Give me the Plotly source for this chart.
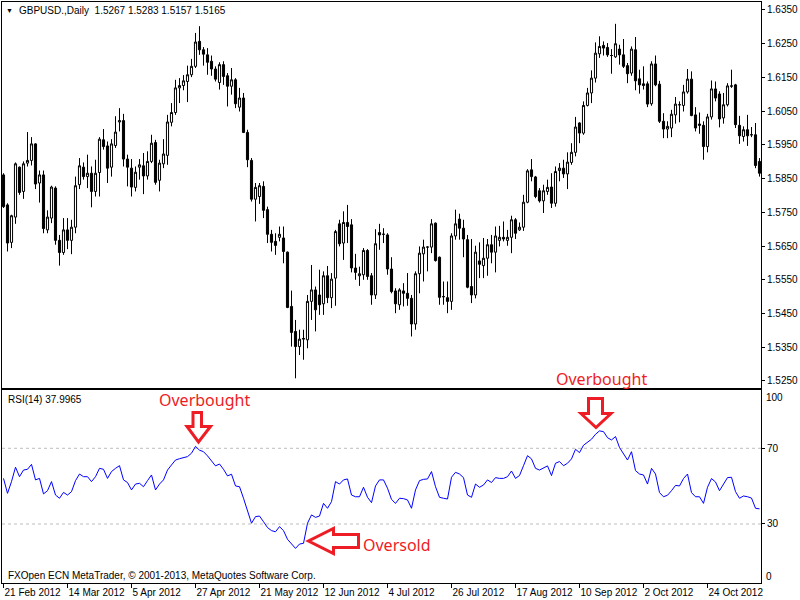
import plotly.graph_objects as go

# ---------------- data ----------------
date_ticks = [0, 16, 32, 48, 64, 80, 96, 112, 128, 144, 160, 176]
date_labels = ["21 Feb 2012", "14 Mar 2012", "5 Apr 2012", "27 Apr 2012", "21 May 2012",
               "12 Jun 2012", "4 Jul 2012", "26 Jul 2012", "17 Aug 2012", "10 Sep 2012",
               "2 Oct 2012", "24 Oct 2012"]
price_ticks = [1.5250, 1.5350, 1.5450, 1.5550, 1.5650, 1.5750, 1.5850, 1.5950,
               1.6050, 1.6150, 1.6250, 1.6350]
rsi_ticks = [30, 70]

opens = [1.5861, 1.5772, 1.5661, 1.5736, 1.5884, 1.5812, 1.5896, 1.5904, 1.5953, 1.5837,
         1.5861, 1.5698, 1.5733, 1.5822, 1.5667, 1.5631, 1.5698, 1.5667, 1.5706, 1.5832,
         1.5884, 1.5856, 1.5866, 1.5812, 1.5868, 1.5965, 1.5947, 1.5884, 1.5948, 1.6018,
         1.6022, 1.5908, 1.5881, 1.5824, 1.5884, 1.5888, 1.5858, 1.5901, 1.5957, 1.5845,
         1.5894, 1.5919, 1.6017, 1.6046, 1.6119, 1.6126, 1.6138, 1.6158, 1.6183, 1.6257,
         1.6232, 1.6217, 1.6198, 1.6175, 1.6135, 1.6188, 1.6155, 1.6124, 1.6143, 1.6062,
         1.6089, 1.5987, 1.5904, 1.5789, 1.5797, 1.5827, 1.5758, 1.5685, 1.5664, 1.5676,
         1.5674, 1.5632, 1.5471, 1.5397, 1.5352, 1.5374, 1.5372, 1.5486, 1.5520, 1.5505,
         1.5479, 1.5562, 1.5497, 1.5555, 1.5716, 1.5659, 1.5720, 1.5713, 1.5585, 1.5562,
         1.5565, 1.5637, 1.5562, 1.5505, 1.5690, 1.5685, 1.5683, 1.5582, 1.5517, 1.5476,
         1.5517, 1.5510, 1.5495, 1.5419, 1.5568, 1.5627, 1.5647, 1.5647, 1.5718, 1.5617,
         1.5500, 1.5497, 1.5486, 1.5680, 1.5730, 1.5703, 1.5669, 1.5530, 1.5505, 1.5606,
         1.5592, 1.5614, 1.5654, 1.5632, 1.5667, 1.5676, 1.5667, 1.5676, 1.5728, 1.5698,
         1.5706, 1.5780, 1.5876, 1.5855, 1.5814, 1.5784, 1.5812, 1.5825, 1.5777, 1.5874,
         1.5881, 1.5864, 1.5898, 1.5928, 1.6015, 1.5985, 1.6067, 1.6104, 1.6148, 1.6220,
         1.6245, 1.6239, 1.6215, 1.6211, 1.6234, 1.6217, 1.6185, 1.6163, 1.6232, 1.6146,
         1.6131, 1.6131, 1.6072, 1.6190, 1.6130, 1.6020, 1.5997, 1.6000, 1.6039, 1.6069,
         1.6067, 1.6107, 1.6145, 1.6039, 1.6012, 1.6008, 1.5945, 1.6033, 1.6116, 1.6101,
         1.6030, 1.6069, 1.6124, 1.6128, 1.6008, 1.5975, 1.5995, 1.5980, 1.5980, 1.5901]
highs = [1.5866, 1.5777, 1.5743, 1.5898, 1.5886, 1.5901, 1.5988, 1.5973, 1.5955, 1.5874,
         1.5874, 1.5756, 1.5829, 1.5827, 1.5683, 1.5733, 1.5733, 1.5728, 1.5856, 1.5911,
         1.5898, 1.5921, 1.5886, 1.5906, 1.5973, 1.5997, 1.5960, 1.5967, 1.6035, 1.6059,
         1.6042, 1.5921, 1.5908, 1.5886, 1.5908, 1.5926, 1.5931, 1.5980, 1.5965, 1.5906,
         1.5967, 1.6039, 1.6074, 1.6143, 1.6148, 1.6157, 1.6185, 1.6205, 1.6282, 1.6302,
         1.6240, 1.6237, 1.6215, 1.6183, 1.6195, 1.6198, 1.6163, 1.6178, 1.6148, 1.6119,
         1.6104, 1.5995, 1.5911, 1.5837, 1.5837, 1.5842, 1.5767, 1.5698, 1.5688, 1.5708,
         1.5708, 1.5634, 1.5518, 1.5431, 1.5402, 1.5402, 1.5505, 1.5594, 1.5530, 1.5580,
         1.5575, 1.5591, 1.5570, 1.5698, 1.5728, 1.5753, 1.5772, 1.5730, 1.5627, 1.5589,
         1.5644, 1.5641, 1.5570, 1.5700, 1.5716, 1.5703, 1.5688, 1.5617, 1.5525, 1.5525,
         1.5540, 1.5570, 1.5505, 1.5575, 1.5649, 1.5669, 1.5649, 1.5730, 1.5720, 1.5619,
         1.5545, 1.5545, 1.5688, 1.5758, 1.5746, 1.5728, 1.5683, 1.5671, 1.5651, 1.5661,
         1.5674, 1.5671, 1.5683, 1.5708, 1.5710, 1.5723, 1.5698, 1.5740, 1.5733, 1.5720,
         1.5802, 1.5878, 1.5908, 1.5858, 1.5822, 1.5832, 1.5847, 1.5866, 1.5886, 1.5896,
         1.5906, 1.5928, 1.5955, 1.6033, 1.6017, 1.6079, 1.6119, 1.6171, 1.6254, 1.6272,
         1.6257, 1.6252, 1.6234, 1.6309, 1.6247, 1.6264, 1.6193, 1.6242, 1.6270, 1.6173,
         1.6183, 1.6138, 1.6198, 1.6215, 1.6140, 1.6044, 1.6020, 1.6054, 1.6092, 1.6079,
         1.6128, 1.6175, 1.6168, 1.6062, 1.6046, 1.6020, 1.6042, 1.6141, 1.6138, 1.6109,
         1.6104, 1.6133, 1.6173, 1.6131, 1.6036, 1.6005, 1.6039, 1.6003, 1.6015, 1.5911]
lows = [1.5763, 1.5634, 1.5644, 1.5716, 1.5802, 1.5790, 1.5886, 1.5889, 1.5819, 1.5779,
        1.5688, 1.5688, 1.5718, 1.5654, 1.5592, 1.5624, 1.5641, 1.5626, 1.5688, 1.5819,
        1.5847, 1.5822, 1.5765, 1.5797, 1.5797, 1.5936, 1.5837, 1.5856, 1.5941, 1.5990,
        1.5886, 1.5827, 1.5797, 1.5812, 1.5847, 1.5804, 1.5847, 1.5896, 1.5832, 1.5812,
        1.5881, 1.5891, 1.6005, 1.6039, 1.6074, 1.6112, 1.6077, 1.6151, 1.6178, 1.6217,
        1.6185, 1.6158, 1.6155, 1.6138, 1.6114, 1.6128, 1.6064, 1.6099, 1.6059, 1.6049,
        1.5985, 1.5884, 1.5782, 1.5723, 1.5775, 1.5733, 1.5659, 1.5634, 1.5624, 1.5664,
        1.5599, 1.5466, 1.5352, 1.5258, 1.5327, 1.5313, 1.5347, 1.5431, 1.5397, 1.5446,
        1.5446, 1.5481, 1.5466, 1.5473, 1.5649, 1.5609, 1.5659, 1.5572, 1.5550, 1.5532,
        1.5550, 1.5550, 1.5476, 1.5493, 1.5639, 1.5659, 1.5565, 1.5510, 1.5451, 1.5461,
        1.5471, 1.5473, 1.5382, 1.5402, 1.5510, 1.5545, 1.5575, 1.5629, 1.5604, 1.5476,
        1.5476, 1.5451, 1.5461, 1.5669, 1.5669, 1.5617, 1.5525, 1.5481, 1.5495, 1.5555,
        1.5555, 1.5562, 1.5599, 1.5572, 1.5649, 1.5664, 1.5651, 1.5629, 1.5671, 1.5695,
        1.5695, 1.5777, 1.5842, 1.5792, 1.5779, 1.5748, 1.5802, 1.5763, 1.5767, 1.5842,
        1.5852, 1.5819, 1.5891, 1.5916, 1.5955, 1.5980, 1.6064, 1.6074, 1.6135, 1.6208,
        1.6215, 1.6211, 1.6161, 1.6208, 1.6188, 1.6178, 1.6133, 1.6155, 1.6112, 1.6102,
        1.6114, 1.6062, 1.6066, 1.6124, 1.6015, 1.5970, 1.5970, 1.5973, 1.6013, 1.6017,
        1.6049, 1.6102, 1.6035, 1.5990, 1.5983, 1.5906, 1.5928, 1.6025, 1.6079, 1.6002,
        1.6013, 1.6064, 1.6119, 1.6000, 1.5953, 1.5960, 1.5947, 1.5973, 1.5881, 1.5856]
closes = [1.5767, 1.5659, 1.5740, 1.5894, 1.5809, 1.5894, 1.5904, 1.5953, 1.5834, 1.5861,
          1.5702, 1.5736, 1.5825, 1.5667, 1.5631, 1.5698, 1.5667, 1.5706, 1.5829, 1.5888,
          1.5856, 1.5866, 1.5812, 1.5866, 1.5967, 1.5945, 1.5881, 1.5953, 1.5988, 1.6022,
          1.5908, 1.5884, 1.5825, 1.5869, 1.5891, 1.5858, 1.5901, 1.5955, 1.5839, 1.5896,
          1.5923, 1.6018, 1.6046, 1.6119, 1.6126, 1.6140, 1.6158, 1.6183, 1.6255, 1.6232,
          1.6219, 1.6195, 1.6175, 1.6145, 1.6188, 1.6153, 1.6124, 1.6143, 1.6072, 1.6089,
          1.5987, 1.5906, 1.5789, 1.5824, 1.5829, 1.5756, 1.5685, 1.5661, 1.5652, 1.5685,
          1.5634, 1.5468, 1.5394, 1.5352, 1.5374, 1.5376, 1.5486, 1.5520, 1.5461, 1.5476,
          1.5562, 1.5497, 1.5552, 1.5693, 1.5657, 1.5720, 1.5708, 1.5585, 1.5572, 1.5568,
          1.5637, 1.5560, 1.5505, 1.5657, 1.5683, 1.5685, 1.5582, 1.5515, 1.5479, 1.5520,
          1.5510, 1.5495, 1.5419, 1.5568, 1.5629, 1.5647, 1.5647, 1.5716, 1.5607, 1.5498,
          1.5500, 1.5486, 1.5680, 1.5716, 1.5703, 1.5671, 1.5528, 1.5505, 1.5632, 1.5596,
          1.5614, 1.5654, 1.5632, 1.5680, 1.5676, 1.5671, 1.5676, 1.5728, 1.5688, 1.5706,
          1.5780, 1.5873, 1.5856, 1.5797, 1.5784, 1.5814, 1.5824, 1.5777, 1.5871, 1.5881,
          1.5864, 1.5899, 1.5928, 1.6003, 1.5985, 1.6067, 1.6104, 1.6148, 1.6222, 1.6242,
          1.6237, 1.6217, 1.6215, 1.6250, 1.6217, 1.6183, 1.6161, 1.6234, 1.6140, 1.6128,
          1.6126, 1.6071, 1.6190, 1.6128, 1.6020, 1.5997, 1.6005, 1.6041, 1.6071, 1.6069,
          1.6107, 1.6145, 1.6037, 1.6000, 1.6008, 1.5945, 1.6033, 1.6116, 1.6089, 1.6027,
          1.6069, 1.6125, 1.6125, 1.6010, 1.5977, 1.5995, 1.5977, 1.5980, 1.5889, 1.5866]
rsi = [54.1, 46.2, 52.4, 60.0, 55.0, 58.5, 58.9, 61.5, 53.3, 54.1,
       45.9, 47.6, 52.4, 45.3, 43.6, 46.7, 45.3, 47.1, 52.9, 56.4,
       55.0, 55.0, 52.4, 55.0, 59.4, 58.9, 54.1, 57.7, 59.4, 60.8,
       53.3, 51.9, 48.0, 51.1, 51.5, 49.7, 52.9, 55.9, 48.0, 51.1,
       53.3, 58.5, 61.2, 63.8, 64.5, 64.9, 65.6, 67.4, 71.0, 69.0,
       68.2, 66.0, 63.5, 60.7, 61.7, 58.9, 55.4, 56.3, 50.1, 49.7,
       43.6, 37.4, 30.4, 33.9, 34.2, 31.2, 28.1, 26.5, 25.9, 28.6,
       26.5, 21.9, 19.4, 17.1, 19.4, 19.8, 30.4, 34.8, 33.5, 34.2,
       40.9, 38.3, 41.8, 52.4, 51.1, 53.3, 53.8, 45.3, 44.4, 44.4,
       49.4, 44.1, 41.3, 50.1, 53.3, 53.3, 48.9, 43.0, 40.9, 43.6,
       43.4, 42.7, 38.3, 48.0, 52.9, 53.6, 53.8, 57.7, 49.7, 44.1,
       43.6, 43.2, 54.7, 57.3, 56.4, 54.5, 45.3, 44.1, 51.1, 49.4,
       50.6, 53.3, 51.9, 54.5, 54.1, 54.1, 55.0, 58.0, 54.1, 55.6,
       60.8, 66.1, 64.4, 59.4, 58.5, 59.8, 60.7, 55.6, 62.1, 63.0,
       60.8, 62.1, 64.4, 69.5, 67.7, 71.6, 73.3, 74.8, 77.4, 79.2,
       78.8, 75.6, 74.4, 76.2, 70.4, 67.0, 63.8, 68.2, 58.2, 56.4,
       55.9, 51.1, 59.4, 56.4, 46.6, 44.4, 45.2, 47.6, 50.4, 50.1,
       54.0, 56.4, 46.6, 44.4, 44.4, 40.9, 49.4, 54.0, 52.2, 47.6,
       50.8, 54.5, 54.7, 47.1, 43.6, 44.8, 44.4, 43.7, 38.3, 38.0]

bar_index = list(range(len(closes)))

# ---------------- layout helpers (pixel -> paper) ----------------
W, H = 800, 600
ML, MR, MT, MB = 2, 39, 2, 17
PW, PH = W - ML - MR, H - MT - MB


def px(x):
    return (x - ML) / PW


def py(y):
    return (H - MB - y) / PH


def path(points):
    return "M " + " L ".join(f"{px(a):.5f},{py(b):.5f}" for a, b in points) + " Z"


RED = "#EE1C25"
TXT = "Liberation Sans, Arial, sans-serif"
fig = go.Figure()

fig.add_trace(go.Candlestick(
    x=bar_index, open=opens, high=highs, low=lows, close=closes,
    increasing=dict(line=dict(color="black", width=1), fillcolor="white"),
    decreasing=dict(line=dict(color="black", width=1), fillcolor="black"),
    whiskerwidth=0, xaxis="x", yaxis="y", hoverinfo="skip", showlegend=False))

fig.add_trace(go.Scatter(
    x=bar_index, y=rsi, mode="lines", line=dict(color="#0000FF", width=1),
    xaxis="x2", yaxis="y2", hoverinfo="skip", showlegend=False))

axis_common = dict(showline=True, mirror=True, linecolor="black", linewidth=1,
                   showgrid=False, zeroline=False, fixedrange=True, automargin=False,
                   tickcolor="black", tickfont=dict(family=TXT, size=10, color="black"))
xr = [-0.375, 189.375]
price_dom_bottom = 1 - (388 - MT) / PH
rsi_dom_top = 1 - (390 - MT) / PH

fig.update_layout(
    width=W, height=H, template="none",
    margin=dict(l=ML, r=MR, t=MT, b=MB),
    paper_bgcolor="white", plot_bgcolor="white",
    boxgap=0.25,
    xaxis=dict(domain=[0, 1], range=xr, anchor="y", showticklabels=False, ticks="",
               rangeslider=dict(visible=False), **axis_common),
    yaxis=dict(domain=[price_dom_bottom, 1], range=[1.52292, 1.63737], anchor="x",
               side="right", tickvals=price_ticks,
               ticktext=[f"{v:.4f}" for v in price_ticks],
               ticks="outside", ticklen=3, **axis_common),
    xaxis2=dict(domain=[0, 1], range=xr, anchor="y2", tickvals=date_ticks,
                ticktext=date_labels, ticks="outside", ticklen=4, tickangle=0,
                ticklabelposition="outside right", **axis_common),
    yaxis2=dict(domain=[0, rsi_dom_top], range=[-1.18, 100.8], anchor="x2",
                side="right", tickvals=rsi_ticks, ticktext=[str(v) for v in rsi_ticks],
                ticks="outside", ticklen=3, **axis_common),
)

# RSI level lines
for lvl in rsi_ticks:
    fig.add_shape(type="line", xref="x2 domain", yref="y2", x0=0, x1=1, y0=lvl, y1=lvl,
                  line=dict(color="#BDBDBD", width=1, dash="3px,3px"), layer="below")

# arrows
arrow_style = dict(type="path", xref="paper", yref="paper",
                   line=dict(color=RED, width=3), fillcolor="white", layer="above")
fig.add_shape(path=path([(193, 412.5), (201.5, 412.5), (201.5, 426.5), (210.5, 426.5),
                         (198.5, 442), (187, 426.5), (193, 426.5)]), **arrow_style)
fig.add_shape(path=path([(588.5, 398.5), (602.5, 398.5), (602.5, 413.5), (611, 413.5),
                         (596, 427.5), (581, 413.5), (588.5, 413.5)]), **arrow_style)
fig.add_shape(path=path([(358.5, 534.5), (358.5, 547.5), (333.5, 547.5), (333.5, 553.5),
                         (308.5, 541), (333.5, 528.5), (333.5, 534.5)]), **arrow_style)


def text(x, y, s, size, color="black", xanchor="left", family=TXT):
    fig.add_annotation(x=px(x), y=py(y), xref="paper", yref="paper", text=s,
                       showarrow=False, xanchor=xanchor, yanchor="middle",
                       font=dict(family=family, size=size, color=color))


AN = "Noto Sans, Open Sans, sans-serif"
text(204.5, 400, "Overbought", 16, RED, "center", AN)
text(601, 379, "Overbought", 16, RED, "center", AN)
text(397, 545, "Oversold", 16, RED, "center", AN)

text(4, 10, "▼", 7)
text(17, 11, "GBPUSD.,Daily  1.5267 1.5283 1.5157 1.5165", 10)
text(6, 399.5, "RSI(14) 37.9965", 10)
text(6, 575.5, "FXOpen ECN MetaTrader, © 2001-2013, MetaQuotes Software Corp.", 10)
text(764, 397, "100", 10)
text(764, 576, "0", 10)

fig.write_html("out.html", config={"displayModeBar": False},
               post_script="document.body.style.margin='0';document.body.style.padding='0';")
